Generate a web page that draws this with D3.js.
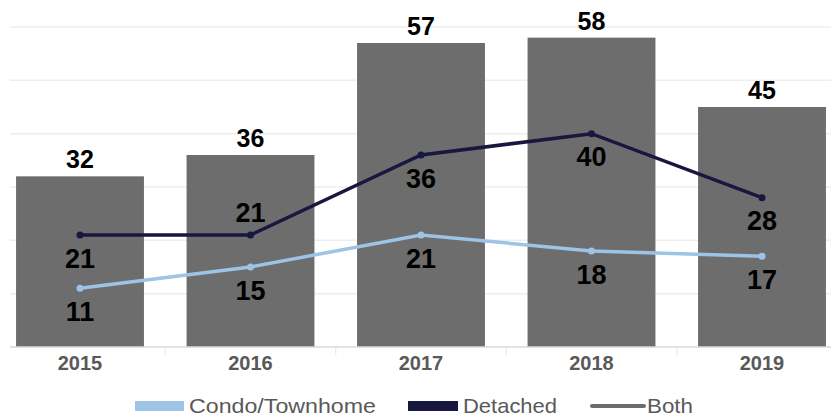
<!DOCTYPE html>
<html>
<head>
  <meta charset="utf-8">
  <title>Sales by year</title>
  <script src="https://cdn.jsdelivr.net/npm/d3@7"></script>
  <style>
    body { margin: 0; background: #fff; }
    text { font-family: Arial, "Liberation Sans", sans-serif; }
  </style>
</head>
<body>
<script>
  // values
  var years = ["2015", "2016", "2017", "2018", "2019"];
  var both = [32, 36, 57, 58, 45];
  var detached = [21, 21, 36, 40, 28];
  var condo = [11, 15, 21, 18, 17];
  var gridTicks = [0, 10, 20, 30, 40, 50, 60];
  // label above (-1) or below (+1) the point
  var detachedSide = [1, -1, 1, 1, 1];
  var condoSide = [1, 1, 1, 1, 1];

  var W = 831, H = 416;
  var colBar = "#6d6d6d", colDet = "#17173f", colCondo = "#9dc3e6";

  var svg = d3.select("body").append("svg")
    .attr("width", W)
    .attr("height", H);

  var x = d3.scaleBand()
    .domain(years)
    .range([-5.25, 847.25])
    .paddingInner(0.25)
    .paddingOuter(0.125);

  var y = d3.scaleLinear()
    .domain([0, 60])
    .range([347, 27]);

  //gridlines
  svg.append("g").selectAll("line")
    .data(gridTicks.slice(1))
    .enter().append("line")
    .attr("x1", 10).attr("x2", W)
    .attr("y1", function (d) { return y(d); })
    .attr("y2", function (d) { return y(d); })
    .attr("stroke", "#eeeeee")
    .attr("stroke-width", 1.5);

  //bars for Both
  svg.append("g").selectAll("rect")
    .data(years)
    .enter().append("rect")
    .attr("x", function (d) { return x(d); })
    .attr("y", function (d, i) { return y(both[i]); })
    .attr("width", x.bandwidth())
    .attr("height", function (d, i) { return y(0) - y(both[i]); })
    .attr("fill", colBar);

  // bar value labels
  svg.append("g").selectAll("text")
    .data(years)
    .enter().append("text")
    .attr("x", function (d) { return x(d) + x.bandwidth() / 2; })
    .attr("y", function (d, i) { return y(both[i]) - 8; })
    .attr("text-anchor", "middle")
    .style("font-size", "25px")
    .style("font-weight", "bold")
    .style("fill", "#000")
    .text(function (d, i) { return both[i]; });

  //x axis
  var xAxis = d3.axisBottom(x).tickSize(0).tickPadding(9);
  var gx = svg.append("g")
    .attr("transform", "translate(0," + y(0) + ")")
    .call(xAxis);
  gx.select(".domain").remove();
  gx.selectAll("text")
    .style("font-family", "Arial, 'Liberation Sans', sans-serif")
    .style("font-size", "20px")
    .style("font-weight", "bold")
    .style("fill", "#595959");

  svg.append("line")
    .attr("x1", 10).attr("x2", W)
    .attr("y1", y(0)).attr("y2", y(0))
    .attr("stroke", "#d9d9d9")
    .attr("stroke-width", 1.5);

  // small separators between categories
  svg.append("g").selectAll("line")
    .data(years.slice(1))
    .enter().append("line")
    .attr("x1", function (d) { return x(d) - x.step() * x.paddingInner() / 2; })
    .attr("x2", function (d) { return x(d) - x.step() * x.paddingInner() / 2; })
    .attr("y1", y(0)).attr("y2", y(0) + 8)
    .attr("stroke", "#e3e3e3")
    .attr("stroke-width", 1);

  function cx(i) { return x(years[i]) + x.bandwidth() / 2; }

  function drawSeries(values, color, sides) {
    var line = d3.line()
      .x(function (d, i) { return cx(i); })
      .y(function (d) { return y(d); });

    svg.append("path")
      .datum(values)
      .attr("d", line)
      .attr("fill", "none")
      .attr("stroke", color)
      .attr("stroke-width", 3.5);

    svg.append("g").selectAll("circle")
      .data(values)
      .enter().append("circle")
      .attr("cx", function (d, i) { return cx(i); })
      .attr("cy", function (d) { return y(d); })
      .attr("r", 3.5)
      .attr("fill", color);

    svg.append("g").selectAll("text")
      .data(values)
      .enter().append("text")
      .attr("x", function (d, i) { return cx(i); })
      .attr("y", function (d, i) { return y(d) + sides[i] * 23; })
      .attr("dy", "0.36em")
      .attr("text-anchor", "middle")
      .style("font-size", "27px")
      .style("font-weight", "bold")
      .style("fill", "#000")
      .text(function (d) { return d; });
  }

  drawSeries(detached, colDet, detachedSide);
  drawSeries(condo, colCondo, condoSide);

  //legend
  var lg = svg.append("g");
  lg.append("rect").attr("x", 135).attr("y", 401).attr("width", 49).attr("height", 10).attr("fill", colCondo);
  lg.append("text").attr("x", 189).attr("y", 413).attr("textLength", 187).text("Condo/Townhome");
  lg.append("rect").attr("x", 408).attr("y", 401).attr("width", 50).attr("height", 10).attr("fill", colDet);
  lg.append("text").attr("x", 463).attr("y", 413).attr("textLength", 94).text("Detached");
  lg.append("line").attr("x1", 592).attr("x2", 644).attr("y1", 406).attr("y2", 406)
    .attr("stroke", colBar).attr("stroke-width", 4).attr("stroke-linecap", "round");
  lg.append("text").attr("x", 647).attr("y", 413).attr("textLength", 46).text("Both");
  lg.selectAll("text")
    .attr("lengthAdjust", "spacingAndGlyphs")
    .style("font-size", "21px")
    .style("fill", "#595959");
</script>
</body>
</html>
